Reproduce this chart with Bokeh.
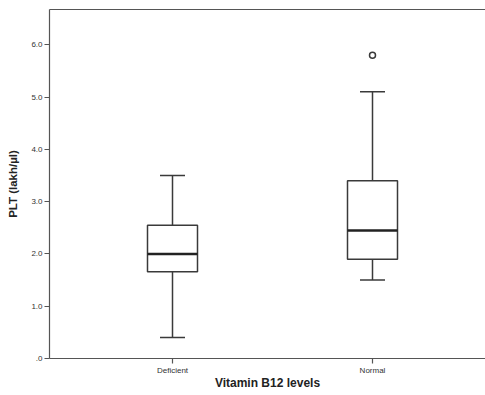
from bokeh.plotting import figure
from bokeh.models import FixedTicker, LinearAxis, Range1d
from bokeh.embed import file_html
from bokeh.resources import INLINE

# data
categories = ["Deficient", "Normal"]
x_pos = [1, 2]
whisker_low = [0.4, 1.5]
q1 = [1.66, 1.9]
median = [2.0, 2.45]
q3 = [2.55, 3.4]
whisker_high = [3.5, 5.1]
outlier_x = [2]
outlier_value = [5.8]
y_ticks = [0, 1, 2, 3, 4, 5, 6]
y_tick_labels = [".0", "1.0", "2.0", "3.0", "4.0", "5.0", "6.0"]

box_w = 0.25
cap_w = 0.125
dark = "#3a3a3a"

p = figure(width=485, height=395, output_backend="svg", toolbar_location=None,
           x_range=Range1d(0.385, 2.565), y_range=Range1d(0, 6.675),
           min_border_left=49, min_border_right=0, min_border_top=9, min_border_bottom=37)
p.outline_line_color = None
p.xgrid.visible = False
p.ygrid.visible = False
p.background_fill_color = "white"

# whiskers
p.segment(x0=x_pos, y0=q3, x1=x_pos, y1=whisker_high, line_color=dark, line_width=1.5)
p.segment(x0=x_pos, y0=whisker_low, x1=x_pos, y1=q1, line_color=dark, line_width=1.5)
p.segment(x0=[x - cap_w / 2 for x in x_pos], y0=whisker_high,
          x1=[x + cap_w / 2 for x in x_pos], y1=whisker_high, line_color=dark, line_width=1.5)
p.segment(x0=[x - cap_w / 2 for x in x_pos], y0=whisker_low,
          x1=[x + cap_w / 2 for x in x_pos], y1=whisker_low, line_color=dark, line_width=1.5)
# boxes
p.vbar(x=x_pos, width=box_w, bottom=q1, top=q3, fill_color="white", line_color=dark, line_width=1.5)
# medians
p.segment(x0=[x - box_w / 2 for x in x_pos], y0=median,
          x1=[x + box_w / 2 for x in x_pos], y1=median, line_color="#222222", line_width=2.5)
# outliers
p.scatter(x=outlier_x, y=outlier_value, marker="circle", size=6, fill_color="white",
          line_color=dark, line_width=1.5)

# axes
font = "Liberation Sans"
p.yaxis.ticker = FixedTicker(ticks=y_ticks)
p.yaxis.major_label_overrides = dict(zip(y_ticks, y_tick_labels))
p.xaxis.ticker = FixedTicker(ticks=x_pos)
p.xaxis.major_label_overrides = dict(zip(x_pos, categories))
for ax in (p.xaxis[0], p.yaxis[0]):
    ax.axis_line_color = "#555555"
    ax.axis_line_width = 1.2
    ax.major_tick_line_color = "#555555"
    ax.major_tick_line_width = 1.2
    ax.major_tick_in = 0
    ax.major_tick_out = 5
    ax.minor_tick_line_color = None
    ax.major_label_text_font = font
    ax.major_label_text_font_size = "8px"
    ax.major_label_text_color = "#333333"
    ax.major_label_standoff = 2
    ax.axis_label_text_font = font
    ax.axis_label_text_font_style = "bold"
    ax.axis_label_text_color = "#222222"
p.xaxis.axis_label = "Vitamin B12 levels"
p.yaxis.axis_label = "PLT (lakh/\u00b5l)"
p.xaxis.axis_label_text_font_size = "12px"
p.yaxis.axis_label_text_font_size = "11.5px"
p.xaxis.axis_label_standoff = -2
p.yaxis.axis_label_standoff = 9

top = LinearAxis(ticker=FixedTicker(ticks=[]), major_tick_line_color=None,
                 minor_tick_line_color=None, axis_line_color="#555555", axis_line_width=1.2)
p.add_layout(top, "above")

open("out.html", "w").write(file_html(p, INLINE))
